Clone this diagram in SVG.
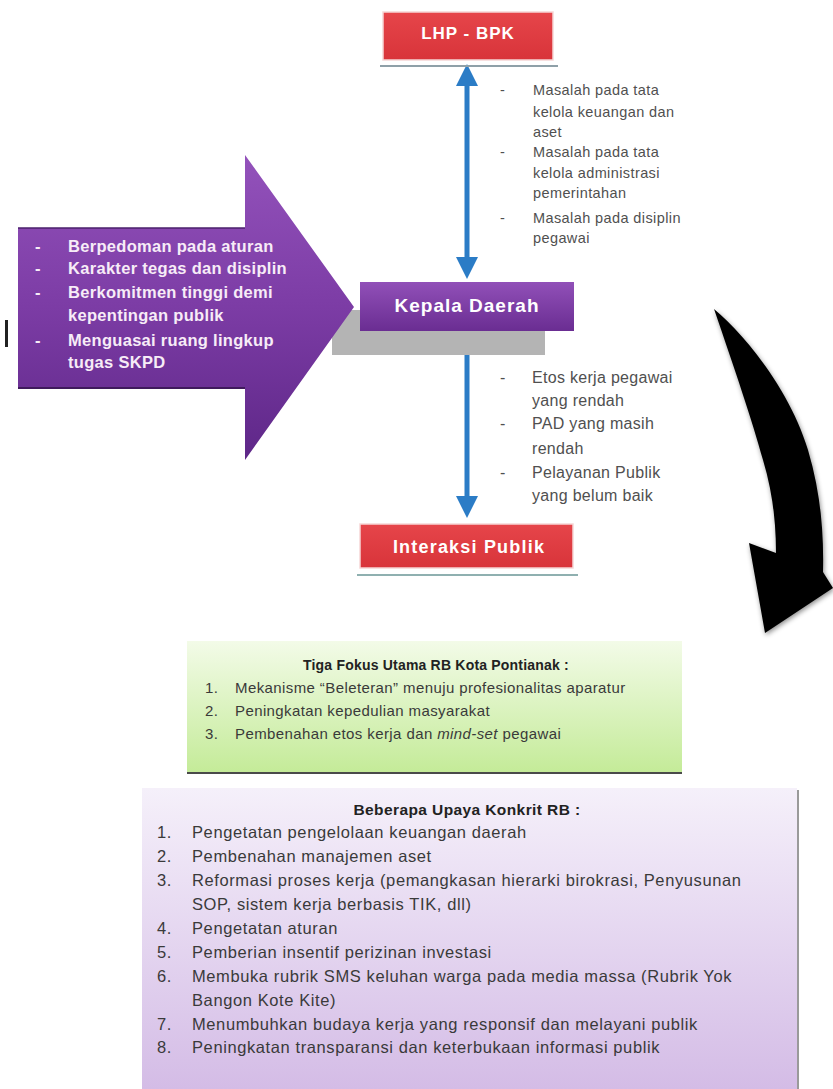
<svg xmlns="http://www.w3.org/2000/svg" width="833" height="1089" viewBox="0 0 833 1089">
<defs>
<linearGradient id="gPurpleArrow" x1="0" y1="0" x2="0" y2="1">
<stop offset="0" stop-color="#9352bb"/>
<stop offset="0.5" stop-color="#7c3ca5"/>
<stop offset="1" stop-color="#5e2788"/>
</linearGradient>
<linearGradient id="gKepala" x1="0" y1="0" x2="0" y2="1">
<stop offset="0" stop-color="#9150b8"/>
<stop offset="1" stop-color="#6a2d92"/>
</linearGradient>
<linearGradient id="gRed" x1="0" y1="0" x2="0" y2="1">
<stop offset="0" stop-color="#e6454a"/>
<stop offset="1" stop-color="#d8343a"/>
</linearGradient>
<linearGradient id="gGreen" x1="0" y1="0" x2="0" y2="1">
<stop offset="0" stop-color="#f3fbe8"/>
<stop offset="1" stop-color="#c4eb98"/>
</linearGradient>
<linearGradient id="gLilac" x1="0" y1="0" x2="0" y2="1">
<stop offset="0" stop-color="#f5f0fa"/>
<stop offset="1" stop-color="#d4bce6"/>
</linearGradient>
<filter id="soft" x="-20%" y="-20%" width="140%" height="140%">
<feGaussianBlur in="SourceAlpha" stdDeviation="2.5"/>
<feOffset dx="1" dy="2" result="b"/>
<feFlood flood-color="#000" flood-opacity="0.45"/>
<feComposite in2="b" operator="in"/>
<feMerge><feMergeNode/><feMergeNode in="SourceGraphic"/></feMerge>
</filter>
<marker id="blueHead" viewBox="0 0 22 22" markerWidth="22" markerHeight="22" refX="4" refY="11" orient="auto-start-reverse" markerUnits="userSpaceOnUse">
<path d="M0,0 L22,11 L0,22 z" fill="#2b7cc6"/>
</marker>
</defs>
<style>
.f{font-family:"Liberation Sans",Arial,sans-serif;}
.boxlbl{font-family:"Liberation Sans",Arial,sans-serif;font-weight:bold;fill:#ffffff;text-anchor:middle;}
.awt{font-family:"Liberation Sans",Arial,sans-serif;font-weight:bold;font-size:16.5px;letter-spacing:0.3px;fill:#f7ecf7;}
.gt1{font-family:"Liberation Sans",Arial,sans-serif;font-size:14.5px;letter-spacing:0.4px;fill:#505050;}
.gt2{font-family:"Liberation Sans",Arial,sans-serif;font-size:16px;letter-spacing:0.3px;fill:#505050;}
.grn{font-family:"Liberation Sans",Arial,sans-serif;font-size:15px;letter-spacing:0.4px;fill:#3a3a3a;}
.lil{font-family:"Liberation Sans",Arial,sans-serif;font-size:16.5px;letter-spacing:0.6px;fill:#3a3a3a;}
.ttl{font-family:"Liberation Sans",Arial,sans-serif;font-weight:bold;fill:#222;text-anchor:middle;}
.blue{stroke:#2b7cc6;stroke-width:5;fill:none;marker-start:url(#blueHead);marker-end:url(#blueHead);}
</style>
<rect x="0" y="0" width="833" height="1089" fill="#ffffff"/>

<g id="connectors">
<line class="blue" x1="467" y1="82" x2="467" y2="261"/>
<line class="blue" x1="467" y1="350" x2="467" y2="500"/>
<path d="M714,309 C745,335 790,390 808,450 C820,490 824,530 823,572 L833,588 L765,633 L749,543 L776,553 C776,520 772,490 763,460 C752,420 735,370 714,309 Z" fill="#000000" filter="url(#soft)"/>
</g>

<g id="node-lhp-bpk">
<line x1="380" y1="66" x2="558" y2="66" stroke="#8fa0a8" stroke-width="2"/>
<rect x="383" y="12" width="170" height="48" fill="url(#gRed)" stroke="#f6d6d6" stroke-width="1.5"/>
<text class="boxlbl" x="468" y="39" font-size="17" letter-spacing="1">LHP - BPK</text>
</g>

<g id="note-lhp">
<text class="gt1" x="500" y="95">-</text>
<text class="gt1" x="533" y="95">Masalah pada tata</text>
<text class="gt1" x="533" y="117">kelola keuangan dan</text>
<text class="gt1" x="533" y="137">aset</text>
<text class="gt1" x="500" y="157">-</text>
<text class="gt1" x="533" y="157">Masalah pada tata</text>
<text class="gt1" x="533" y="178">kelola administrasi</text>
<text class="gt1" x="533" y="198">pemerintahan</text>
<text class="gt1" x="500" y="223">-</text>
<text class="gt1" x="533" y="223">Masalah pada disiplin</text>
<text class="gt1" x="533" y="243">pegawai</text>
</g>

<g id="node-kepala-daerah">
<rect x="332" y="310" width="213" height="45" fill="#b4b4b4"/>
<rect x="360" y="282" width="214" height="49" fill="url(#gKepala)"/>
<text class="boxlbl" x="467" y="312" font-size="19" letter-spacing="1">Kepala Daerah</text>
</g>

<g id="node-arrow-kriteria">
<rect x="5" y="320" width="3" height="27" fill="#222"/>
<path d="M18,228 L245,228 L245,155 L354,307 L245,460 L245,388 L18,388 Z" fill="url(#gPurpleArrow)"/>
<line x1="18" y1="228" x2="245" y2="228" stroke="#4a1f6b" stroke-width="1.5"/>
<line x1="18" y1="388" x2="245" y2="388" stroke="#3f1a5c" stroke-width="2"/>
<text class="awt" x="35" y="252">-</text>
<text class="awt" x="68" y="252">Berpedoman pada aturan</text>
<text class="awt" x="35" y="274">-</text>
<text class="awt" x="68" y="274">Karakter tegas dan disiplin</text>
<text class="awt" x="35" y="298">-</text>
<text class="awt" x="68" y="298">Berkomitmen tinggi demi</text>
<text class="awt" x="68" y="321">kepentingan publik</text>
<text class="awt" x="35" y="346">-</text>
<text class="awt" x="68" y="346">Menguasai ruang lingkup</text>
<text class="awt" x="68" y="368">tugas SKPD</text>
</g>

<g id="note-publik">
<text class="gt2" x="500" y="383">-</text>
<text class="gt2" x="532" y="383">Etos kerja pegawai</text>
<text class="gt2" x="532" y="406">yang rendah</text>
<text class="gt2" x="500" y="429">-</text>
<text class="gt2" x="532" y="429">PAD yang masih</text>
<text class="gt2" x="532" y="454">rendah</text>
<text class="gt2" x="500" y="478">-</text>
<text class="gt2" x="532" y="478">Pelayanan Publik</text>
<text class="gt2" x="532" y="501">yang belum baik</text>
</g>

<g id="node-interaksi-publik">
<line x1="357" y1="575" x2="578" y2="575" stroke="#8fb0b0" stroke-width="2"/>
<rect x="360" y="524" width="213" height="44" fill="url(#gRed)" stroke="#f6d6d6" stroke-width="1.5"/>
<text class="boxlbl" x="469" y="553" font-size="18" letter-spacing="1.2">Interaksi Publik</text>
</g>

<g id="node-tiga-fokus">
<rect x="187" y="641" width="495" height="132" fill="url(#gGreen)"/>
<line x1="187" y1="773" x2="682" y2="773" stroke="#4a4a4a" stroke-width="2"/>
<text class="ttl" x="436" y="670" font-size="14" letter-spacing="0.2">Tiga Fokus Utama RB Kota Pontianak :</text>
<text class="grn" x="205" y="693">1.</text>
<text class="grn" x="235" y="693">Mekanisme “Beleteran” menuju profesionalitas aparatur</text>
<text class="grn" x="205" y="716">2.</text>
<text class="grn" x="235" y="716">Peningkatan kepedulian masyarakat</text>
<text class="grn" x="205" y="739">3.</text>
<text class="grn" x="235" y="739">Pembenahan etos kerja dan <tspan font-style="italic">mind-set</tspan> pegawai</text>
</g>

<g id="node-upaya-konkrit">
<rect x="142" y="788" width="655" height="301" fill="url(#gLilac)"/>
<line x1="798" y1="790" x2="798" y2="1089" stroke="#9a9a9a" stroke-width="2"/>
<text class="ttl" x="467" y="815" font-size="15.5" letter-spacing="0.4">Beberapa Upaya  Konkrit RB :</text>
<text class="lil" x="157" y="838">1.</text>
<text class="lil" x="192" y="838">Pengetatan pengelolaan  keuangan daerah</text>
<text class="lil" x="157" y="862">2.</text>
<text class="lil" x="192" y="862">Pembenahan manajemen aset</text>
<text class="lil" x="157" y="886">3.</text>
<text class="lil" x="192" y="886">Reformasi proses kerja (pemangkasan  hierarki birokrasi, Penyusunan</text>
<text class="lil" x="192" y="910">SOP, sistem kerja berbasis TIK, dll)</text>
<text class="lil" x="157" y="934">4.</text>
<text class="lil" x="192" y="934">Pengetatan aturan</text>
<text class="lil" x="157" y="958">5.</text>
<text class="lil" x="192" y="958">Pemberian insentif perizinan investasi</text>
<text class="lil" x="157" y="982">6.</text>
<text class="lil" x="192" y="982">Membuka rubrik SMS keluhan warga pada media massa  (Rubrik Yok</text>
<text class="lil" x="192" y="1006">Bangon Kote Kite)</text>
<text class="lil" x="157" y="1030">7.</text>
<text class="lil" x="192" y="1030">Menumbuhkan budaya kerja yang responsif dan melayani  publik</text>
<text class="lil" x="157" y="1053">8.</text>
<text class="lil" x="192" y="1053">Peningkatan transparansi  dan keterbukaan informasi  publik</text>
</g>
</svg>
